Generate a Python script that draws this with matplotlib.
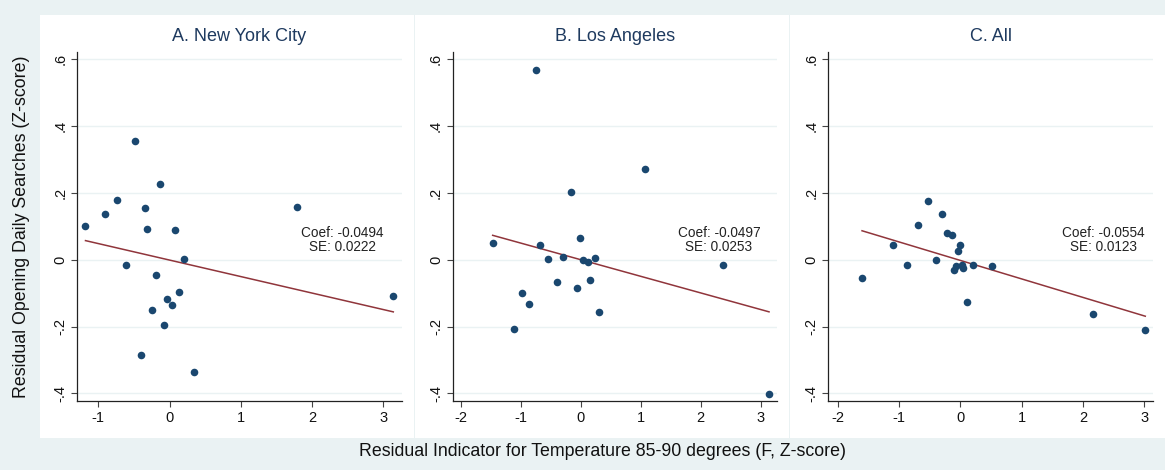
import numpy as np
import matplotlib
matplotlib.use('Agg')
import matplotlib.pyplot as plt
from matplotlib.patches import Rectangle

plt.rcParams['font.family'] = ['Liberation Sans', 'DejaVu Sans']
plt.rcParams['axes.unicode_minus'] = False

# 各面板数据 (残差温度指标, 残差搜索量)
nyc_x = [-1.18, -0.91, -0.735, -0.487, -0.61, -0.40, -0.343, -0.31, -0.25, -0.19,
         -0.136, -0.084, -0.033, 0.028, 0.07, 0.131, 0.206, 0.346, 1.786, 3.14]
nyc_y = [0.100, 0.137, 0.178, 0.356, -0.015, -0.284, 0.155, 0.091, -0.150, -0.045,
         0.226, -0.195, -0.118, -0.135, 0.090, -0.098, 0.002, -0.335, 0.158, -0.108]

la_x = [-1.472, -1.111, -0.983, -0.867, -0.75, -0.689, -0.544, -0.406, -0.294, -0.161,
        -0.072, -0.017, 0.028, 0.111, 0.156, 0.228, 0.30, 1.067, 2.378, 3.139]
la_y = [0.051, -0.208, -0.099, -0.133, 0.569, 0.043, 0.002, -0.068, 0.007, 0.203,
        -0.085, 0.065, -0.001, -0.007, -0.061, 0.005, -0.155, 0.273, -0.015, -0.401]

all_x = [-1.603, -1.103, -0.870, -0.696, -0.522, -0.391, -0.299, -0.212, -0.136, -0.098,
         -0.065, -0.043, -0.011, 0.022, 0.049, 0.114, 0.207, 0.522, 2.163, 3.016]
all_y = [-0.056, 0.043, -0.017, 0.103, 0.176, 0.000, 0.138, 0.081, 0.073, -0.030,
         -0.020, 0.025, 0.045, -0.015, -0.025, -0.128, -0.015, -0.018, -0.161, -0.209]

titles = ['A. New York City', 'B. Los Angeles', 'C. All']
coefs = [-0.0494, -0.0497, -0.0554]
ses = [0.0222, 0.0253, 0.0123]
intercepts = [-0.001, 0.0, -0.002]

xticks_list = [[-1, 0, 1, 2, 3], [-2, -1, 0, 1, 2, 3], [-2, -1, 0, 1, 2, 3]]
yticks = [-0.4, -0.2, 0, 0.2, 0.4, 0.6]
ytick_labels = ['-.4', '-.2', '0', '.2', '.4', '.6']

# 版式 (像素)
W, H = 1165, 470
BG = '#eaf2f3'
NAVY = '#1a476f'
MAROON = '#90353b'

fig = plt.figure(figsize=(W / 100, H / 100), dpi=100)
fig.patch.set_facecolor(BG)

# 白色面板区域
panels = [(40, 414), (415, 789), (790, 1165)]
for x0, x1 in panels:
    fig.patches.append(Rectangle((x0 / W, 1 - 438 / H), (x1 - x0) / W, (438 - 15) / H,
                                 transform=fig.transFigure, facecolor='white',
                                 edgecolor='none', zorder=-10))

ax_px = [(77.3, 401.7), (452.7, 777.3), (828.3, 1152.7)]
xlims = [(-1.295, 3.258), (-2.139, 3.277), (-2.153, 3.137)]
ylim = (-0.423, 0.623)
top_px, bot_px = 51.7, 401

data = [(nyc_x, nyc_y), (la_x, la_y), (all_x, all_y)]
text_x = [2.42, 2.305, 2.33]

for i in range(3):
    l, r = ax_px[i]
    ax = fig.add_axes([l / W, 1 - bot_px / H, (r - l) / W, (bot_px - top_px) / H])
    ax.set_facecolor('none')
    x, y = data[i]
    ax.scatter(x, y, s=30, color=NAVY, zorder=3, linewidths=0)

    xs = np.array([min(x), max(x)])
    ax.plot(xs, intercepts[i] + coefs[i] * xs, color=MAROON, lw=1.1, zorder=2)

    ax.text(text_x[i], 0.058, 'Coef: %.4f\nSE: %.4f' % (coefs[i], ses[i]),
            ha='center', va='center', fontsize=9.8, color='#222222', linespacing=1.0)

    ax.set_xlim(xlims[i])
    ax.set_ylim(ylim)
    ax.set_xticks(xticks_list[i])
    ax.set_yticks(yticks)
    ax.set_yticklabels(ytick_labels, rotation=90, va='center')
    ax.grid(axis='y', color=BG, lw=1.0, zorder=0)
    ax.set_axisbelow(True)
    for s in ['top', 'right']:
        ax.spines[s].set_visible(False)
    for s in ['left', 'bottom']:
        ax.spines[s].set_color('#222222')
        ax.spines[s].set_linewidth(0.9)
    ax.tick_params(length=4, width=0.8, color='#444444', labelsize=10.5,
                   labelcolor='#111111', pad=3)
    ax.set_title(titles[i], fontsize=13, color='#1e3a5f', pad=8)

fig.text(602.5 / W, 1 - 451 / H, 'Residual Indicator for Temperature 85-90 degrees (F, Z-score)',
         ha='center', va='center', fontsize=12.8, color='#111111')
fig.text(22 / W, 1 - 227 / H, 'Residual Opening Daily Searches (Z-score)',
         ha='center', va='center', rotation=90, fontsize=12.8, color='#111111')

fig.savefig('out.png', dpi=100, facecolor=BG)
